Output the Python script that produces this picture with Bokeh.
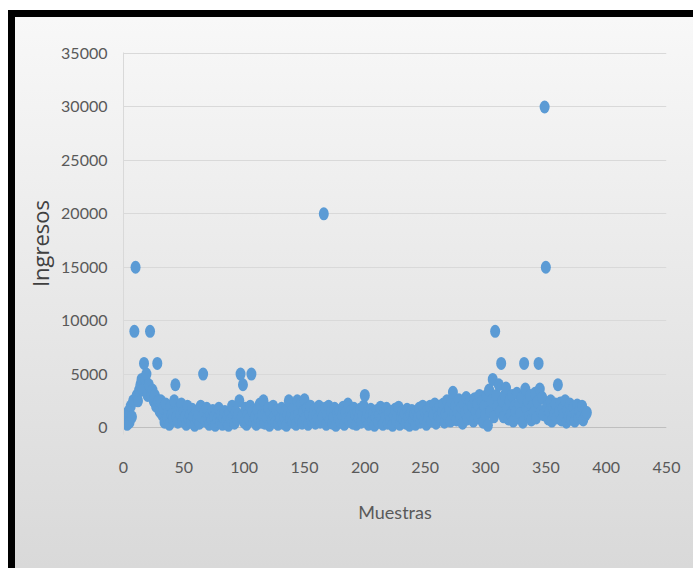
from bokeh.plotting import figure
from bokeh.models import ColumnDataSource, Range1d, FixedTicker, Span
from bokeh.embed import file_html
from bokeh.resources import INLINE

# Income (Ingresos) recorded for each sample (Muestras 1..384)
ingresos = [
    800, 1200, 300, 1500, 500, 2000, 1000, 2500, 9000, 15000, 3000, 2500,
    3500, 4000, 4500, 3500, 6000, 4500, 5000, 3000, 4000, 9000, 3000, 3500,
    2500, 3000, 2000, 6000, 2500, 1500, 2500, 1200, 1800, 500, 2200, 1000,
    1500, 300, 2000, 1200, 800, 2500, 4000, 1000, 500, 1800, 1200, 2200,
    600, 1500, 1000, 300, 2000, 800, 1200, 500, 1700, 1000, 200, 1500,
    800, 1200, 400, 2000, 1000, 5000, 1500, 600, 1800, 900, 300, 1200,
    700, 1600, 1000, 200, 1400, 800, 1800, 500, 1200, 300, 900, 1500,
    600, 1100, 200, 1300, 700, 2000, 1000, 400, 1500, 800, 1200, 2500,
    5000, 1000, 4000, 500, 1800, 300, 1200, 800, 2000, 5000, 1500, 600,
    1000, 300, 1700, 800, 2200, 500, 1200, 2500, 400, 1500, 900, 1800,
    200, 1300, 700, 2000, 1000, 500, 1600, 300, 1200, 800, 1800, 400,
    1000, 1500, 200, 1200, 2500, 800, 1400, 500, 1800, 1000, 300, 2500,
    1200, 700, 2200, 400, 1500, 2600, 900, 1800, 300, 1300, 2000, 600,
    1000, 1700, 400, 1200, 800, 2000, 500, 1500, 1000, 20000, 1800, 300,
    1200, 2000, 700, 1500, 400, 1000, 1800, 200, 1300, 800, 1600, 500,
    1100, 1900, 300, 1400, 800, 2200, 600, 1500, 1000, 400, 1800, 1200,
    300, 1500, 900, 1700, 500, 1200, 2000, 3000, 800, 1400, 300, 1100,
    1700, 600, 1300, 200, 1000, 1600, 500, 1200, 1900, 800, 300, 1400,
    1000, 1800, 400, 1300, 700, 1500, 200, 1100, 1700, 600, 1200, 1900,
    300, 1000, 1500, 800, 1300, 400, 1700, 1000, 200, 1200, 1600, 700,
    1300, 300, 1500, 900, 1800, 500, 1200, 2000, 700, 1400, 300, 1600,
    1000, 2000, 600, 1500, 1200, 2200, 400, 1700, 1000, 2000, 800, 1500,
    2200, 500, 1300, 2500, 1000, 1800, 600, 2400, 3300, 1200, 2000, 700,
    1500, 2600, 1000, 1900, 400, 2200, 1400, 2800, 800, 1700, 2500, 1100,
    2000, 600, 2700, 1500, 2200, 900, 3000, 1300, 2400, 500, 2000, 1200,
    3000, 200, 3500, 1500, 2500, 4500, 1000, 9000, 3000, 2000, 4000, 1500,
    6000, 2500, 1000, 3000, 3700, 1800, 800, 2500, 1200, 3000, 600, 2000,
    1500, 3200, 900, 2200, 1300, 2800, 500, 6000, 3600, 1800, 2500, 1000,
    3000, 700, 2000, 1400, 3200, 900, 2400, 6000, 3600, 1500, 2800, 1200,
    30000, 15000, 2000, 800, 1500, 2500, 600, 1800, 1200, 2200, 900, 4000,
    1500, 2300, 700, 1800, 1200, 2500, 500, 1600, 1000, 2200, 800, 1500,
    1900, 600, 1300, 2100, 900, 1600, 1100, 2000, 700, 1500, 1200, 1400,
]
muestras = list(range(1, len(ingresos) + 1))

x_ticks = [0, 50, 100, 150, 200, 250, 300, 350, 400, 450]
y_ticks = [0, 5000, 10000, 15000, 20000, 25000, 30000, 35000]

source = ColumnDataSource(data=dict(x=muestras, y=ingresos))

GREY_TEXT = "#595959"
LABEL_FONT = "Lato"

p = figure(
    width=693, height=568,
    x_range=Range1d(0, 450), y_range=Range1d(-655, 35100),
    output_backend="svg", toolbar_location=None,
    min_border_left=123, min_border_right=27,
    min_border_top=52, min_border_bottom=134,
    background_fill_color=None, border_fill_color=None,
    outline_line_color=None,
)

# Chart panel: white page, black frame on top/left, soft grey gradient inside
p.styles = {
    "background": (
        "linear-gradient(#000, #000) 8px 10px / 7px 100% no-repeat, "
        "linear-gradient(#000, #000) 8px 10px / 100% 7px no-repeat, "
        "linear-gradient(#f8f8f8, #d8d8d8) 15px 17px / 100% 100% no-repeat, "
        "#ffffff"
    ),
}

# baseline at zero (horizontal axis line)
p.add_layout(Span(location=0, dimension="width", line_color="#bfbfbf",
                  line_width=1, level="underlay"))

p.ellipse(x="x", y="y", width=10, height=13,
          width_units="screen", height_units="screen",
          source=source, fill_color="#5B9BD5", line_color=None)

p.xaxis.ticker = FixedTicker(ticks=x_ticks)
p.yaxis.ticker = FixedTicker(ticks=y_ticks)

for ax in (p.xaxis[0], p.yaxis[0]):
    ax.major_tick_line_color = None
    ax.minor_tick_line_color = None
    ax.major_label_text_color = GREY_TEXT
    ax.major_label_text_font = LABEL_FONT
    ax.major_label_text_font_size = "16px"

p.xaxis.axis_line_color = None
p.yaxis.axis_line_color = "#d9d9d9"
p.xaxis.major_label_standoff = 21
p.yaxis.major_label_standoff = 10

p.xaxis.axis_label = "Muestras"
p.xaxis.axis_label_text_font = LABEL_FONT
p.xaxis.axis_label_text_font_size = "18px"
p.xaxis.axis_label_text_font_style = "normal"
p.xaxis.axis_label_text_color = GREY_TEXT
p.xaxis.axis_label_standoff = 25

p.yaxis.axis_label = "Ingresos"
p.yaxis.axis_label_text_font = "Open Sans"
p.yaxis.axis_label_text_font_size = "22px"
p.yaxis.axis_label_text_font_style = "normal"
p.yaxis.axis_label_text_color = "#404040"
p.yaxis.axis_label_standoff = 3

p.xgrid.grid_line_color = None
p.ygrid.grid_line_color = "#d9d9d9"
p.ygrid.grid_line_width = 1

open("out.html", "w").write(file_html(p, INLINE))
